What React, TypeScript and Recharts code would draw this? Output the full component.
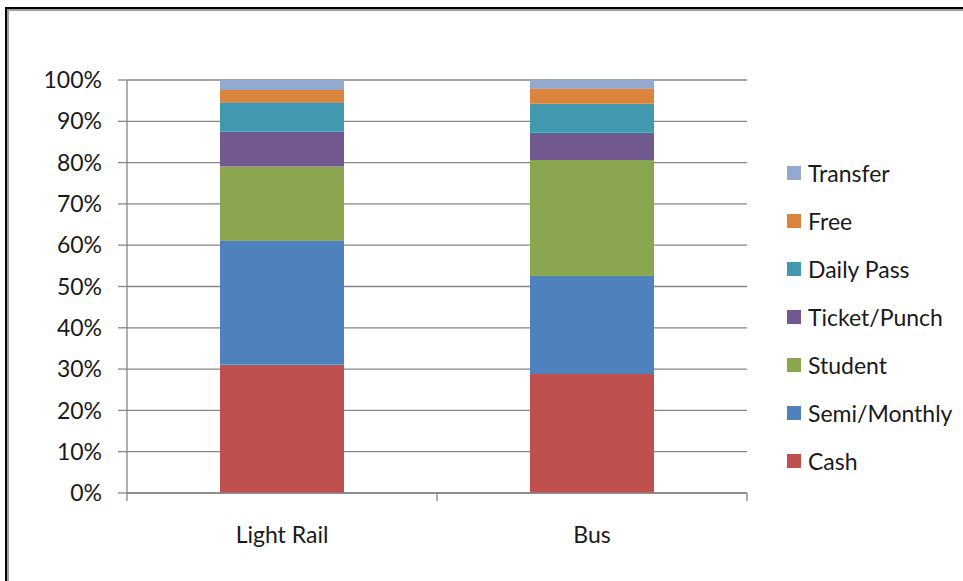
import React from 'react';
import { BarChart, Bar, XAxis, YAxis, CartesianGrid } from 'recharts';

const categories = ['Light Rail', 'Bus'];
const cash = [31.2, 28.8];
const semiMonthly = [30.1, 23.9];
const student = [18.0, 27.9];
const ticketPunch = [8.4, 6.6];
const dailyPass = [7.1, 7.1];
const free = [3.0, 3.7];
const transfer = [2.4, 2.0];
const yTicks = [0, 0.1, 0.2, 0.3, 0.4, 0.5, 0.6, 0.7, 0.8, 0.9, 1];

const series = [
  { key: 'cash', name: 'Cash', values: cash, color: '#C0504D' },
  { key: 'semi', name: 'Semi/Monthly', values: semiMonthly, color: '#4F81BD' },
  { key: 'student', name: 'Student', values: student, color: '#8AA64F' },
  { key: 'ticket', name: 'Ticket/Punch', values: ticketPunch, color: '#71588F' },
  { key: 'daily', name: 'Daily Pass', values: dailyPass, color: '#4198AF' },
  { key: 'free', name: 'Free', values: free, color: '#DB843D' },
  { key: 'transfer', name: 'Transfer', values: transfer, color: '#93A9CF' }
];

const chartData = categories.map((c, i) => {
  const row: Record<string, string | number> = { category: c };
  series.forEach(s => {
    row[s.key] = s.values[i];
  });
  return row;
});

const FONT = 'Lato, "Open Sans", sans-serif';
const FONT_SIZE = 23;
const TEXT = '#1a1a1a';
const GRID = '#868686';
const PLOT_LEFT = 127;
const PLOT_RIGHT = 747;
const BAND = (PLOT_RIGHT - PLOT_LEFT) / categories.length;

// category ticks sit between the bars, like Excel does it
const CategoryTick = (props: any) => {
  const { x, y, payload, index } = props;
  const left = x - BAND / 2;
  return (
    <g>
      <line x1={left} y1={y} x2={left} y2={y + 8} stroke={GRID} strokeWidth={1.3} />
      {index === categories.length - 1 && (
        <line x1={x + BAND / 2} y1={y} x2={x + BAND / 2} y2={y + 8} stroke={GRID} strokeWidth={1.3} />
      )}
      <text x={x} y={y + 50} textAnchor="middle" fill={TEXT} fontSize={FONT_SIZE} fontFamily={FONT}>
        {payload.value}
      </text>
    </g>
  );
};

export default function App() {
  return (
    <div
      style={{
        position: 'absolute',
        left: 0,
        top: 0,
        width: 963,
        height: 581,
        overflow: 'hidden',
        background: '#fff',
        fontFamily: FONT
      }}
    >
      {/* frame: black line with a gray one inside, cut off at right and bottom */}
      <div
        style={{
          position: 'absolute',
          left: 5,
          top: 7,
          width: 1000,
          height: 620,
          border: '2px solid #000',
          boxSizing: 'border-box'
        }}
      />
      <div
        style={{
          position: 'absolute',
          left: 7,
          top: 9,
          width: 1000,
          height: 620,
          border: '2px solid #A0A0A0',
          boxSizing: 'border-box'
        }}
      />

      <div style={{ position: 'absolute', left: 0, top: 0 }}>
        <BarChart
          width={963}
          height={581}
          data={chartData}
          stackOffset="expand"
          barCategoryGap="30%"
          margin={{ top: 80, right: 963 - PLOT_RIGHT, bottom: 58, left: 0 }}
        >
          <CartesianGrid vertical={false} stroke={GRID} strokeWidth={1.3} />
          <XAxis
            dataKey="category"
            height={30}
            axisLine={{ stroke: GRID, strokeWidth: 1.3 }}
            tickLine={false}
            tickSize={0}
            tickMargin={0}
            tick={<CategoryTick />}
            interval={0}
          />
          <YAxis
            width={PLOT_LEFT}
            domain={[0, 1]}
            ticks={yTicks}
            tickFormatter={(v: number) => `${Math.round(v * 100)}%`}
            axisLine={{ stroke: GRID, strokeWidth: 1.3 }}
            tickLine={{ stroke: GRID, strokeWidth: 1.3 }}
            tickSize={9}
            tickMargin={16}
            tick={{ fill: TEXT, fontSize: FONT_SIZE, fontFamily: FONT }}
          />
          {series.map(s => (
            <Bar
              key={s.key}
              dataKey={s.key}
              name={s.name}
              stackId="fare"
              fill={s.color}
              isAnimationActive={false}
            />
          ))}
        </BarChart>
      </div>

      {/* legend, top entry is the top of the stack */}
      <div style={{ position: 'absolute', left: 787, top: 149 }}>
        {[...series].reverse().map(s => (
          <div key={s.key} style={{ height: 48, display: 'flex', alignItems: 'center' }}>
            <div style={{ width: 14, height: 14, background: s.color, marginRight: 7, flexShrink: 0 }} />
            <span style={{ fontSize: FONT_SIZE, color: TEXT, whiteSpace: 'nowrap' }}>{s.name}</span>
          </div>
        ))}
      </div>
    </div>
  );
}
